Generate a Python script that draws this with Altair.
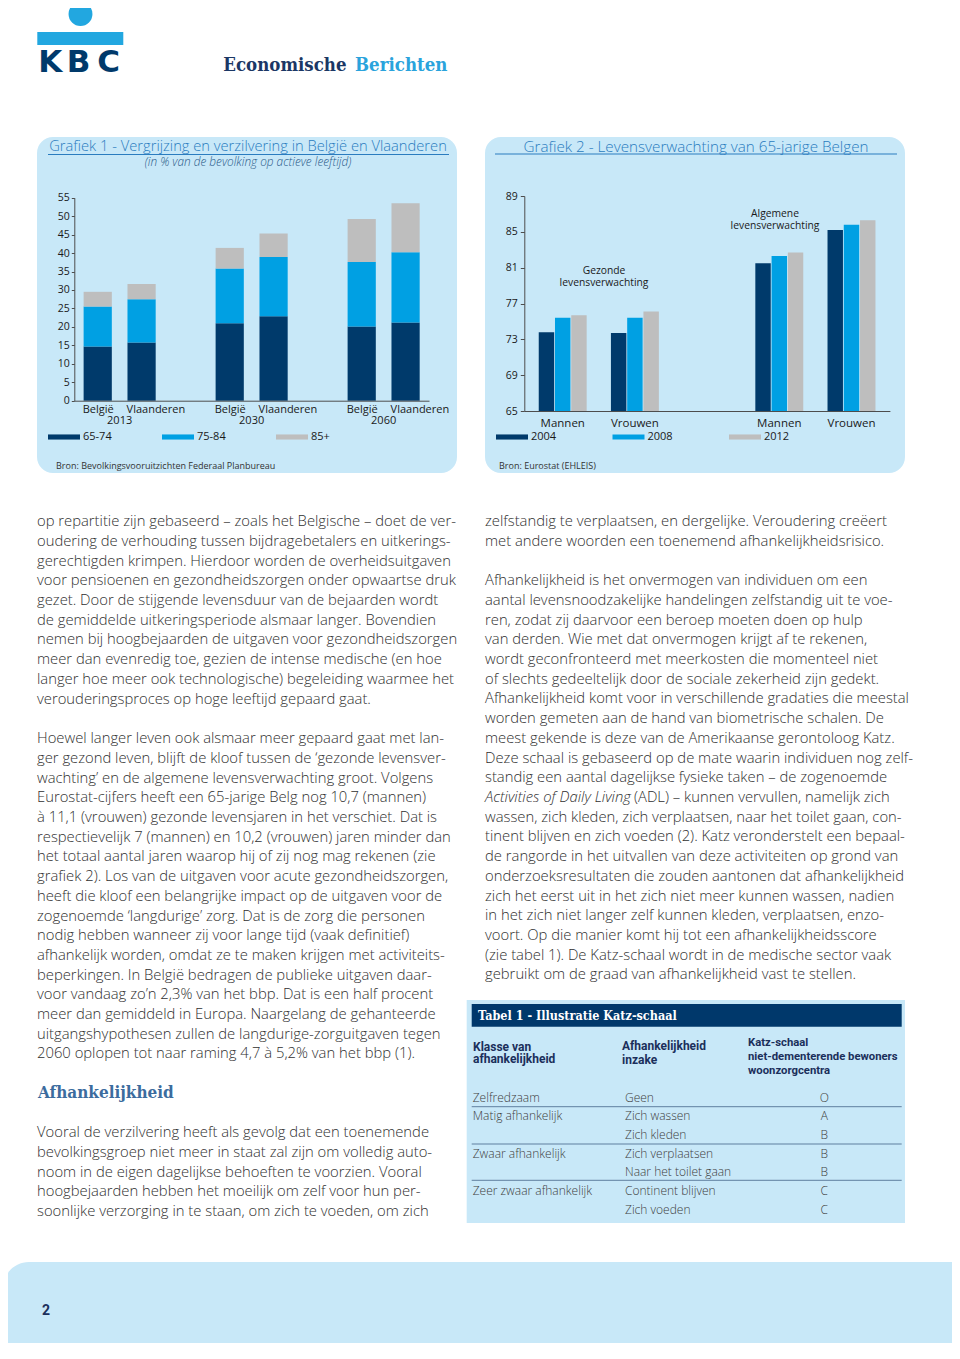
import altair as alt
import pandas as pd

# ---------------- data: Grafiek 1 ----------------
years_1 = ["2013", "2030", "2060"]
regions_1 = ["België", "Vlaanderen"]
ages_1 = ["65-74", "75-84", "85+"]
# order: België 2013, Vlaanderen 2013, België 2030, Vlaanderen 2030, België 2060, Vlaanderen 2060
age_65_74 = [14.7, 15.8, 21.0, 22.9, 20.1, 21.2]
age_75_84 = [10.8, 11.7, 14.8, 16.0, 17.5, 19.0]
age_85_plus = [4.0, 4.1, 5.6, 6.4, 11.6, 13.3]
y1_ticks = [0, 5, 10, 15, 20, 25, 30, 35, 40, 45, 50, 55]

# ---------------- data: Grafiek 2 ----------------
cats_2 = ["Mannen (gezond)", "Vrouwen (gezond)", " ", "Mannen", "Vrouwen"]
years_2 = ["2004", "2008", "2012"]
gezond_mannen = [73.8, 75.4, 75.7]
gezond_vrouwen = [73.7, 75.4, 76.1]
algemeen_mannen = [81.5, 82.3, 82.7]
algemeen_vrouwen = [85.2, 85.8, 86.3]
y2_ticks = [65, 69, 73, 77, 81, 85, 89]

# ---------------- texts ----------------
title_1 = "Grafiek 1 - Vergrijzing en verzilvering in België en Vlaanderen"
subtitle_1 = "(in % van de bevolking op actieve leeftijd)"
source_1 = "Bron: Bevolkingsvooruitzichten Federaal Planbureau"
title_2 = "Grafiek 2 - Levensverwachting van 65-jarige Belgen"
source_2 = "Bron: Eurostat (EHLEIS)"

left_p1 = [
    "op repartitie zijn gebaseerd – zoals het Belgische – doet de ver-",
    "oudering de verhouding tussen bijdragebetalers en uitkerings-",
    "gerechtigden krimpen. Hierdoor worden de overheidsuitgaven",
    "voor pensioenen en gezondheidszorgen onder opwaartse druk",
    "gezet. Door de stijgende levensduur van de bejaarden wordt",
    "de gemiddelde uitkeringsperiode alsmaar langer. Bovendien",
    "nemen bij hoogbejaarden de uitgaven voor gezondheidszorgen",
    "meer dan evenredig toe, gezien de intense medische (en hoe",
    "langer hoe meer ook technologische) begeleiding waarmee het",
    "verouderingsproces op hoge leeftijd gepaard gaat.",
]
left_p2 = [
    "Hoewel langer leven ook alsmaar meer gepaard gaat met lan-",
    "ger gezond leven, blijft de kloof tussen de ‘gezonde levensver-",
    "wachting’ en de algemene levensverwachting groot. Volgens",
    "Eurostat-cijfers heeft een 65-jarige Belg nog 10,7 (mannen)",
    "à 11,1 (vrouwen) gezonde levensjaren in het verschiet. Dat is",
    "respectievelijk 7 (mannen) en 10,2 (vrouwen) jaren minder dan",
    "het totaal aantal jaren waarop hij of zij nog mag rekenen (zie",
    "grafiek 2). Los van de uitgaven voor acute gezondheidszorgen,",
    "heeft die kloof een belangrijke impact op de uitgaven voor de",
    "zogenoemde ‘langdurige’ zorg. Dat is de zorg die personen",
    "nodig hebben wanneer zij voor lange tijd (vaak definitief)",
    "afhankelijk worden, omdat ze te maken krijgen met activiteits-",
    "beperkingen. In België bedragen de publieke uitgaven daar-",
    "voor vandaag zo’n 2,3% van het bbp. Dat is een half procent",
    "meer dan gemiddeld in Europa. Naargelang de gehanteerde",
    "uitgangshypothesen zullen de langdurige-zorguitgaven tegen",
    "2060 oplopen tot naar raming 4,7 à 5,2% van het bbp (1).",
]
heading_left = "Afhankelijkheid"
left_p3 = [
    "Vooral de verzilvering heeft als gevolg dat een toenemende",
    "bevolkingsgroep niet meer in staat zal zijn om volledig auto-",
    "noom in de eigen dagelijkse behoeften te voorzien. Vooral",
    "hoogbejaarden hebben het moeilijk om zelf voor hun per-",
    "soonlijke verzorging in te staan, om zich te voeden, om zich",
]
right_p1 = [
    "zelfstandig te verplaatsen, en dergelijke. Veroudering creëert",
    "met andere woorden een toenemend afhankelijkheidsrisico.",
]
right_p2a = [
    "Afhankelijkheid is het onvermogen van individuen om een",
    "aantal levensnoodzakelijke handelingen zelfstandig uit te voe-",
    "ren, zodat zij daarvoor een beroep moeten doen op hulp",
    "van derden. Wie met dat onvermogen krijgt af te rekenen,",
    "wordt geconfronteerd met meerkosten die momenteel niet",
    "of slechts gedeeltelijk door de sociale zekerheid zijn gedekt.",
    "Afhankelijkheid komt voor in verschillende gradaties die meestal",
    "worden gemeten aan de hand van biometrische schalen. De",
    "meest gekende is deze van de Amerikaanse gerontoloog Katz.",
    "Deze schaal is gebaseerd op de mate waarin individuen nog zelf-",
    "standig een aantal dagelijkse fysieke taken – de zogenoemde",
]
right_italic = "Activities of Daily Living"
right_after_italic = "(ADL) – kunnen vervullen, namelijk zich"
right_p2b = [
    "wassen, zich kleden, zich verplaatsen, naar het toilet gaan, con-",
    "tinent blijven en zich voeden (2). Katz veronderstelt een bepaal-",
    "de rangorde in het uitvallen van deze activiteiten op grond van",
    "onderzoeksresultaten die zouden aantonen dat afhankelijkheid",
    "zich het eerst uit in het zich niet meer kunnen wassen, nadien",
    "in het zich niet langer zelf kunnen kleden, verplaatsen, enzo-",
    "voort. Op die manier komt hij tot een afhankelijkheidsscore",
    "(zie tabel 1). De Katz-schaal wordt in de medische sector vaak",
    "gebruikt om de graad van afhankelijkheid vast te stellen.",
]
table_title = "Tabel 1 - Illustratie Katz-schaal"
table_head_1 = ["Klasse van", "afhankelijkheid"]
table_head_2 = ["Afhankelijkheid", "inzake"]
table_head_3 = ["Katz-schaal", "niet-dementerende bewoners", "woonzorgcentra"]
tab_klasse = ["Zelfredzaam", "Matig afhankelijk", "", "Zwaar afhankelijk", "", "Zeer zwaar afhankelijk", ""]
tab_inzake = ["Geen", "Zich wassen", "Zich kleden", "Zich verplaatsen", "Naar het toilet gaan",
              "Continent blijven", "Zich voeden"]
tab_katz = ["O", "A", "B", "B", "B", "C", "C"]

# ---------------- style / layout ----------------
W, H, OFF = 944, 1335, 8
BODY = "Open Sans"
SLAB = "DejaVu Serif Condensed, DejaVu Serif"
NARROW = "Liberation Sans Narrow, Roboto"
NAVY = "#003a6b"
BLUE = "#00a0e3"
GREY = "#bebebe"
PANEL = "#c8e8f8"
TITLE_BLUE = "#2a7cbf"
TEXT = "#303030"
COLORS = [NAVY, BLUE, GREY]
LEG_SYMBOL = "M-1,-0.16H1V0.16H-1Z"
FS = 14.8
ROW_LH = 18.65
ROW_Y0 = 1097.7


def txt(x, y, s, size=12, color=TEXT, font=BODY, weight="normal", align="left",
        baseline="middle", style="normal", lh=None):
    kw = dict(text=s, fontSize=size, color=color, font=font, fontWeight=weight,
              align=align, baseline=baseline, fontStyle=style)
    if lh is not None:
        kw["lineHeight"] = lh
    return alt.Chart().mark_text(**kw).encode(x=alt.value(x - OFF), y=alt.value(y - OFF))


def box(x, x2, y, y2, fill, **kw):
    return alt.Chart().mark_rect(fill=fill, **kw).encode(
        x=alt.value(x - OFF), x2=alt.value(x2 - OFF), y=alt.value(y - OFF), y2=alt.value(y2 - OFF))


def hrule(x, x2, y, color, w=1.0):
    return alt.Chart().mark_rule(color=color, strokeWidth=w).encode(
        x=alt.value(x - OFF), x2=alt.value(x2 - OFF), y=alt.value(y - OFF))


def dot(x, y, r, fill):
    return alt.Chart().mark_point(shape="circle", filled=True, fill=fill, opacity=1,
                                  strokeWidth=0, size=3.14159 * r * r).encode(
        x=alt.value(x - OFF), y=alt.value(y - OFF))


def para(x, y_first_center, lines, size=FS, lh=19.7, **kw):
    top = y_first_center - 0.52 * size
    return txt(x, top, lines, size=size, baseline="top", lh=lh, **kw)


def legend(x, y, colpad):
    return alt.Legend(orient="none", legendX=x - OFF, legendY=y - OFF, direction="horizontal",
                      title=None, symbolType=LEG_SYMBOL, symbolSize=1024, symbolStrokeWidth=0,
                      symbolOpacity=1, labelFontSize=11, labelColor="#1a1a1a", labelFont=BODY,
                      labelOffset=3, columnPadding=colpad, gridAlign="all", padding=0, zindex=2)


AX = dict(domainColor="#4d4d4d", tickColor="#4d4d4d", labelColor="#1a1a1a", labelFont=BODY,
          title=None, grid=False, zindex=2)

# ---------------- Grafiek 1 ----------------
rows1 = []
i = 0
for yr in years_1:
    for rg in regions_1:
        for k, (age, vals) in enumerate(zip(ages_1, [age_65_74, age_75_84, age_85_plus])):
            rows1.append(dict(jaar=yr, regio=rg, leeftijd=age, orde=k, waarde=vals[i]))
        i += 1
df1 = pd.DataFrame(rows1)

ax1x = alt.Axis(orient="bottom", offset=(400.7 - OFF) - H, labelPadding=14, ticks=False, tickSize=0,
                labelFontSize=11, labelAngle=0, **AX)
x1 = alt.X("jaar:N", sort=years_1, axis=ax1x,
           scale=alt.Scale(domain=years_1, range=[74.3 - OFF, 429.0 - OFF],
                           paddingInner=0.454, paddingOuter=0.0706))
xo1 = alt.XOffset("regio:N", sort=regions_1,
                  scale=alt.Scale(domain=regions_1, paddingInner=0.357, paddingOuter=0))
y1 = alt.Y("waarde:Q", stack="zero",
           scale=alt.Scale(domain=[0, 55], range=[400.7 - OFF, 197.7 - OFF], nice=False, zero=True),
           axis=alt.Axis(orient="left", offset=-(74.3 - OFF), values=y1_ticks, tickSize=3,
                         labelPadding=2, labelFontSize=10.5, **AX))
bars1 = alt.Chart(df1).mark_bar().encode(
    x=x1, xOffset=xo1, y=y1,
    color=alt.Color("leeftijd:N", scale=alt.Scale(domain=ages_1, range=COLORS),
                    legend=legend(48, 421, 50)),
    order=alt.Order("orde:Q", sort="ascending"),
)
labels1 = alt.Chart(df1).transform_filter(alt.datum.orde == 0).mark_text(
    fontSize=11, color="#1a1a1a", font=BODY, baseline="middle", align="left", dx=-15).encode(
    x=x1, xOffset=xo1, y=alt.value(410 - OFF), text="regio:N")
chart1 = alt.layer(bars1, labels1)

# ---------------- Grafiek 2 ----------------
rows2 = []
for cat, vals in zip([cats_2[0], cats_2[1], cats_2[3], cats_2[4]],
                     [gezond_mannen, gezond_vrouwen, algemeen_mannen, algemeen_vrouwen]):
    for yr, v in zip(years_2, vals):
        rows2.append(dict(groep=cat, jaar=yr, leeftijd=v))
df2 = pd.DataFrame(rows2)

bars2 = alt.Chart(df2).mark_bar().encode(
    x=alt.X("groep:N", sort=cats_2,
            scale=alt.Scale(domain=cats_2, range=[524.3 - OFF, 889.9 - OFF],
                            paddingInner=0.336, paddingOuter=0.2),
            axis=alt.Axis(orient="bottom", offset=(411 - OFF) - H, labelExpr="split(datum.label, ' ')[0]",
                          labelPadding=6, ticks=False, tickSize=0, labelFontSize=11.5,
                          labelAngle=0, **AX)),
    xOffset=alt.XOffset("jaar:N", sort=years_2,
                        scale=alt.Scale(domain=years_2, paddingInner=0.05, paddingOuter=0)),
    y=alt.Y("leeftijd:Q",
            scale=alt.Scale(domain=[65, 89], range=[411 - OFF, 196 - OFF], nice=False, zero=False),
            axis=alt.Axis(orient="left", offset=-(524.3 - OFF), values=y2_ticks, tickSize=4,
                          labelPadding=3, labelFontSize=10.5, **AX)),
    y2=alt.datum(65),
    color=alt.Color("jaar:N", scale=alt.Scale(domain=years_2, range=COLORS),
                    legend=legend(496, 421, 55.5)),
)

# ---------------- table (Katz) ----------------
table_layers = [
    box(466.7, 905, 1000, 1223, PANEL),
    box(471.7, 901.7, 1004, 1026.7, "#00386b"),
    txt(478, 1015.5, table_title, size=12.5, color="white", font=SLAB, weight="bold"),
    para(473, 1048, table_head_1, size=12, lh=12.5, color="#1b2f5b", font=NARROW, weight="bold"),
    para(622, 1047, table_head_2, size=12, lh=14.5, color="#1b2f5b", font=NARROW, weight="bold"),
    para(748, 1043, table_head_3, size=11.3, lh=14, color="#1b2f5b", font=NARROW, weight="bold"),
    hrule(471.7, 901.7, 1106.7, "#5f7f9f"),
    hrule(471.7, 901.7, 1144, "#5f7f9f"),
    hrule(471.7, 901.7, 1180.3, "#5f7f9f"),
]
for r in range(len(tab_inzake)):
    yy = ROW_Y0 + r * ROW_LH
    if tab_klasse[r]:
        table_layers.append(txt(472.7, yy, tab_klasse[r], size=12, color="#404040", weight=300))
    table_layers.append(txt(625, yy, tab_inzake[r], size=12, color="#404040", weight=300))
    table_layers.append(txt(824.3, yy, tab_katz[r], size=12, color="#404040", weight=300, align="center"))

# ---------------- page ----------------
ital_y = 581 + 11 * 19.7 + 0.5
layers = [
    # header / logo
    box(37.3, 123.3, 32, 45, "#22a7e0"),
    dot(80.5, 14, 13.5, "#22a7e0"),
    txt(50.3, 71.7, "K", size=31, color=NAVY, font="DejaVu Sans", weight="bold", align="center", baseline="alphabetic"),
    txt(78.5, 71.7, "B", size=31, color=NAVY, font="DejaVu Sans", weight="bold", align="center", baseline="alphabetic"),
    txt(108.5, 71.7, "C", size=31, color=NAVY, font="DejaVu Sans", weight="bold", align="center", baseline="alphabetic"),
    txt(223.3, 71, "Economische", size=18.5, color="#1b3765", font=SLAB, weight="bold", baseline="alphabetic"),
    txt(355, 71, "Berichten", size=18.5, color="#2aa3dc", font=SLAB, weight="bold", baseline="alphabetic"),
    # panels
    box(37, 457, 137, 473, PANEL, cornerRadius=16),
    box(485, 905, 137, 473, PANEL, cornerRadius=16),
    txt(248, 147, title_1, size=14.7, color=TITLE_BLUE, align="center", weight=300),
    hrule(48, 449, 154.5, TITLE_BLUE),
    txt(248, 162, subtitle_1, size=11.8, color="#2b5a88", align="center", style="italic", weight=300),
    txt(696, 147, title_2, size=15.2, color=TITLE_BLUE, align="center", weight=300),
    hrule(495, 897, 154, TITLE_BLUE),
    txt(56, 466, source_1, size=9, color="#333333"),
    txt(499, 466, source_2, size=9, color="#333333"),
    txt(604, 271, "Gezonde", size=10.3, color="#1a1a1a", align="center"),
    txt(604, 283, "levensverwachting", size=10.3, color="#1a1a1a", align="center"),
    txt(775, 213.5, "Algemene", size=10.3, color="#1a1a1a", align="center"),
    txt(775, 225.5, "levensverwachting", size=10.3, color="#1a1a1a", align="center"),
    chart1,
    bars2,
    # body text
    para(37, 522, left_p1, weight=300),
    para(37, 739, left_p2, weight=300),
    txt(38, 1093, heading_left, size=17, color="#3c6c9e", font=SLAB, weight="bold"),
    para(37, 1133, left_p3, weight=300),
    para(485, 522, right_p1, weight=300),
    para(485, 581, right_p2a, weight=300),
    txt(485, ital_y, right_italic, size=FS, style="italic", weight=300),
    txt(634, ital_y, right_after_italic, size=FS, weight=300),
    para(485, 581 + 12 * 19.7, right_p2b, weight=300),
] + table_layers + [
    # footer
    box(3, 990, 1262, 1400, PANEL, cornerRadiusTopLeft=26),
    txt(42, 1311, "2", size=14, color="#1b2f5b", font=NARROW, weight="bold"),
]

chart = (
    alt.layer(*layers)
    .resolve_scale(x="independent", y="independent", color="independent", xOffset="independent")
    .resolve_axis(x="independent", y="independent")
    .resolve_legend(color="independent")
    .properties(width=W, height=H, padding=0, background="white",
                autosize=alt.AutoSizeParams(type="none"))
    .configure(font=BODY)
    .configure_view(stroke=None)
)

chart.save("out.html", embed_options={"renderer": "svg", "actions": False})
